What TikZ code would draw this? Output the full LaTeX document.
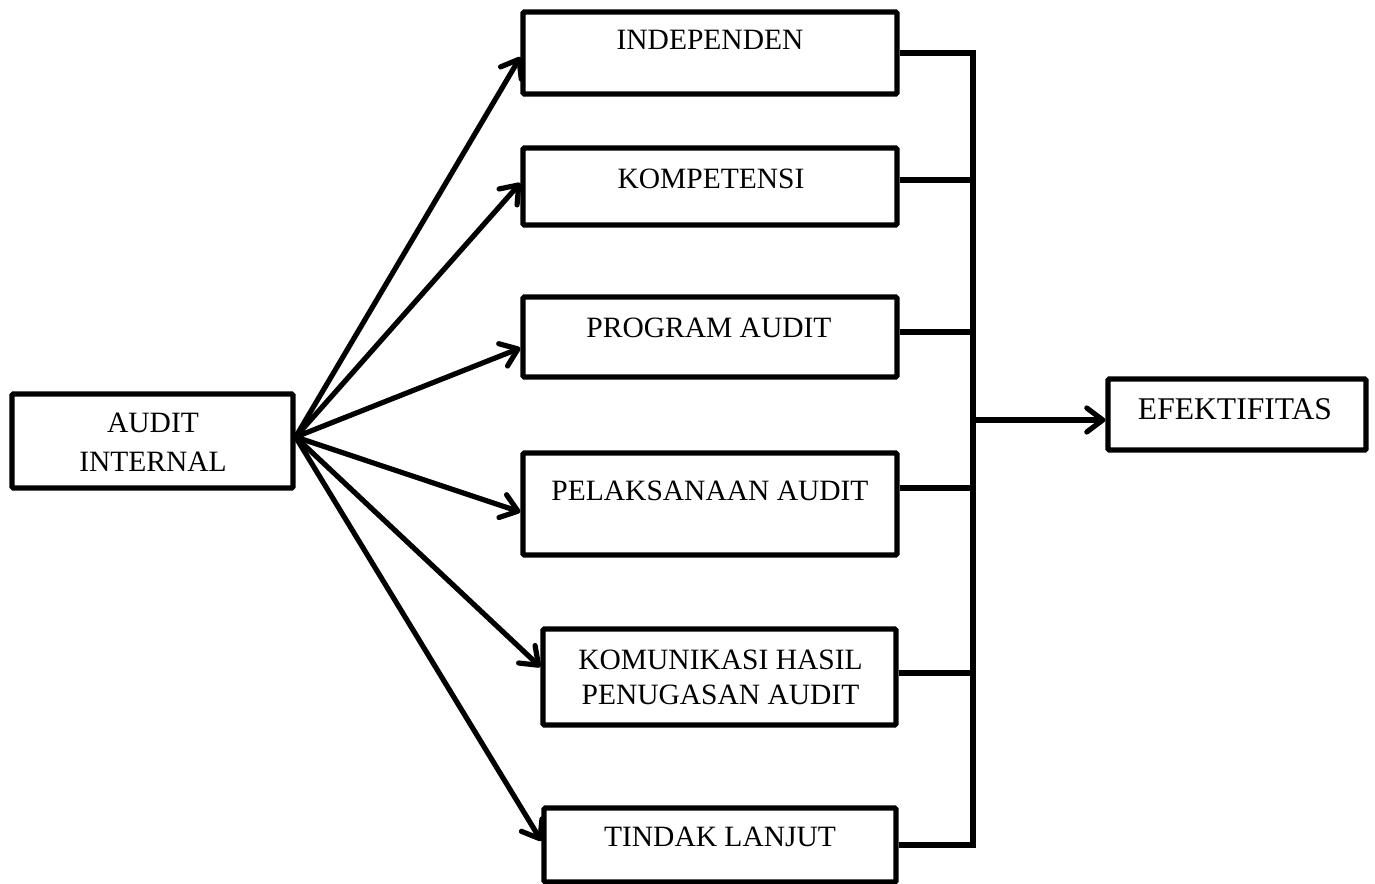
\documentclass[tikz,border=0pt]{standalone}
\usepackage{fontspec}
\setmainfont{Liberation Serif}
\usetikzlibrary{arrows.meta}
\begin{document}
\begin{tikzpicture}[x=0.5pt,y=-0.5pt,
  every node/.style={font=\fontsize{14.75}{19.5}\selectfont},
  box/.style={draw,line width=2.6pt,inner sep=0pt,rounded corners=0.6pt},
  lbl/.style={inner sep=0pt,align=center},
  conn/.style={line width=2.6pt,line join=miter},
  arr/.style={line width=2.6pt,-{Straight Barb[length=8pt,width=12pt,round]}}]
\useasboundingbox (0,0) rectangle (1375,883);
% boxes
\node[box,minimum width=140.5pt,minimum height=47pt] (audit) at (152.5,441) {};
\node[box,minimum width=187pt,minimum height=41pt] (ind) at (710,53) {};
\node[box,minimum width=187pt,minimum height=38.5pt] (komp) at (710,186.5) {};
\node[box,minimum width=187pt,minimum height=40pt] (prog) at (710,337) {};
\node[box,minimum width=187pt,minimum height=51pt] (pel) at (710,504) {};
\node[box,minimum width=176.5pt,minimum height=48pt] (kom) at (719.5,677) {};
\node[box,minimum width=176pt,minimum height=37pt] (tin) at (720,845) {};
\node[box,minimum width=129pt,minimum height=35.5pt] (efek) at (1237,414.5) {};
% labels
\node[lbl,font=\fontsize{14.75}{19.5}\selectfont] (taudit) at (153,442.5) {AUDIT\\INTERNAL};
\node[lbl,anchor=base] (tind) at (710,50) {INDEPENDEN};
\node[lbl,anchor=base] (tkomp) at (711,188) {KOMPETENSI};
\node[lbl,anchor=base] (tprog) at (709,337) {PROGRAM AUDIT};
\node[lbl,anchor=base] (tpel) at (710,500) {PELAKSANAAN AUDIT};
\node[lbl,font=\fontsize{14.75}{17.5}\selectfont] (tkom) at (720.5,677.5) {KOMUNIKASI HASIL\\PENUGASAN AUDIT};
\node[lbl,anchor=base] (ttin) at (720,846) {TINDAK LANJUT};
\node[lbl,anchor=base,font=\fontsize{15.8}{19}\selectfont] (tefek) at (1235,419) {EFEKTIFITAS};
% bus
\coordinate (btop) at (973,53);
\coordinate (bbot) at (973,845);
\draw[conn] (ind.east) -- (btop) -- (bbot) -- (bbot -| tin.east);
\draw[conn] ([yshift=3.25pt]komp.east) coordinate (k1) -- (k1 -| btop);
\draw[conn] ([yshift=2.5pt]prog.east) coordinate (p1) -- (p1 -| btop);
\draw[conn] ([yshift=8pt]pel.east) coordinate (e1) -- (e1 -| btop);
\draw[conn] ([yshift=2pt]kom.east) coordinate (m1) -- (m1 -| btop);
\draw[arr] ([yshift=-2.75pt]efek.west -| btop) -- ([yshift=-2.75pt]efek.west);
% fan-out arrows
\coordinate (src) at ([yshift=2pt]audit.east);
\draw[arr] (src) -- ([yshift=-2pt]ind.west);
\draw[arr] (src) -- ([yshift=1.75pt]komp.west);
\draw[arr] (src) -- ([yshift=-5.5pt]prog.west);
\draw[arr] (src) -- ([yshift=-4pt]pel.west);
\draw[arr] (src) -- ([yshift=5pt]kom.west);
\draw[arr] (src) -- ([yshift=2pt]tin.west);
\end{tikzpicture}
\end{document}
